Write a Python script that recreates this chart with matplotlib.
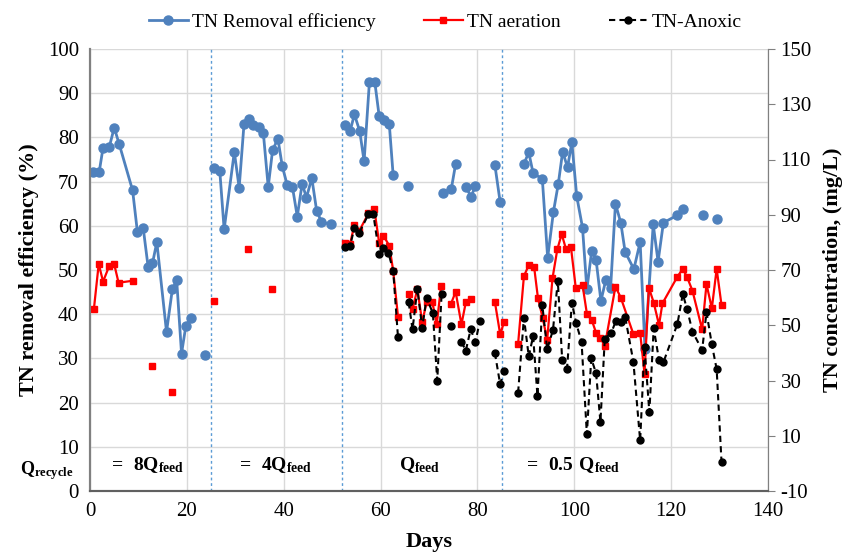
import numpy as np
import matplotlib
matplotlib.use('Agg')
import matplotlib.pyplot as plt
from matplotlib.ticker import MultipleLocator, FixedLocator

plt.rcParams['font.family'] = ['Liberation Serif', 'DejaVu Serif']
plt.rcParams['mathtext.fontset'] = 'custom'
plt.rcParams['mathtext.rm'] = 'Liberation Serif'
plt.rcParams['mathtext.bf'] = 'Liberation Serif:bold'
plt.rcParams['axes.unicode_minus'] = False

# TN removal efficiency (%), None = gap in the line
eff_days = [0.7, 1.9, 2.7, 4.0, 5.0, 6.0, 8.8, 9.8, 11.0, 12.0, 12.9, 13.8, 15.8, 17.0, 17.9, 18.9, 19.8, 20.8, None,
            23.8, None,
            25.7, 26.8, 27.7, 29.8, 30.8, 31.8, 32.8, 33.7, 34.8, 35.8, 36.8, 37.7, 38.8, 39.7, 40.7, 41.8, 42.8,
            43.8, 44.7, 45.8, 46.8, 47.8, 49.7, None,
            52.7, 53.7, 54.6, 55.7, 56.6, 57.7, 58.8, 59.7, 60.8, 61.8, 62.6, None,
            65.7, None,
            72.8, 74.6, 75.5, None,
            77.6, 78.7, 79.6, None,
            83.6, 84.7, None,
            89.6, 90.6, 91.5, 93.4, 94.5, 95.7, 96.7, 97.6, 98.6, 99.5, 100.5, 101.7, 102.6, 103.6, 104.5, 105.5,
            106.5, 107.5, 108.5, 109.6, 110.5, 112.3, 113.6, 114.6, 116.3, 117.3, 118.4, 121.3, 122.4, None,
            126.5, None,
            129.4]
eff_vals = [72.2, 72.2, 77.7, 77.9, 82.2, 78.6, 68.0, 58.5, 59.4, 50.7, 51.5, 56.3, 36.0, 45.6, 47.7, 31.1, 37.4, 39.1, None,
            30.7, None,
            73.1, 72.4, 59.2, 76.7, 68.6, 83.0, 84.1, 82.8, 82.4, 80.9, 68.8, 77.1, 79.7, 73.5, 69.3, 68.8, 62.1,
            69.5, 66.4, 70.8, 63.4, 60.9, 60.3, None,
            82.7, 81.4, 85.2, 81.4, 74.6, 92.6, 92.6, 84.9, 84.0, 83.0, 71.4, None,
            69.1, None,
            67.4, 68.3, 74.0, None,
            68.8, 66.6, 69.1, None,
            73.8, 65.3, None,
            74.0, 76.6, 71.9, 70.6, 52.8, 63.2, 69.5, 76.8, 73.2, 78.9, 66.7, 59.6, 45.6, 54.4, 52.3, 43.0,
            47.7, 45.9, 65.0, 60.7, 54.1, 50.2, 56.3, 32.1, 60.3, 51.9, 60.7, 62.4, 63.8, None,
            62.4, None,
            61.5]

# TN aeration (mg/L)
aer_days = [0.8, 1.8, 2.7, 4.0, 5.0, 5.9, 8.8, None,
            12.7, None, 16.9, None, 25.7, None, 32.6, None, 37.6, None,
            52.7, 53.7, 54.6, 55.6, 57.5, 58.7, 59.7, 60.6, 61.8, 62.6, 63.6, None,
            65.8, 66.6, 67.6, 68.6, 69.5, 70.7, 71.6, 72.5, None,
            74.5, 75.5, 76.7, 77.6, 78.6, None,
            83.6, 84.7, 85.5, None,
            88.4, 89.6, 90.6, 91.7, 92.5, 93.5, 94.4, 95.5, 96.5, 97.4, 98.3, 99.3, 100.3, 101.7, 102.6, 103.6,
            104.5, 105.4, 106.3, 108.5, 109.6, 112.2, 113.6, 114.5, 115.4, 116.4, 117.5, 118.2, 121.3, 122.4,
            123.3, 124.4, 126.4, 127.3, 128.4, 129.4, 130.4]
aer_vals = [55.8, 72.2, 65.8, 71.6, 72.1, 65.4, 66.1, None,
            35.4, None, 25.7, None, 58.9, None, 77.5, None, 63.2, None,
            79.9, 79.4, 86.4, 84.2, 90.5, 92.1, 79.9, 82.4, 78.8, 69.8, 53.1, None,
            61.2, 56.0, 63.0, 51.1, 58.3, 58.3, 50.3, 64.3, None,
            57.6, 62.1, 50.3, 58.3, 59.5, None,
            58.5, 46.7, 51.2, None,
            43.3, 67.8, 71.7, 71.2, 59.8, 52.5, 44.7, 67.0, 77.5, 83.0, 77.5, 78.4, 63.6, 64.6, 54.2, 51.9,
            47.3, 45.5, 42.5, 64.0, 60.0, 46.8, 47.3, 32.5, 63.6, 58.2, 50.1, 57.9, 67.6, 70.4,
            67.4, 62.5, 48.5, 64.9, 56.1, 70.4, 57.3]

# TN anoxic (mg/L)
anox_days = [52.7, 53.7, 54.6, 55.6, 57.5, 58.5, 59.7, 60.6, 61.6, 62.6, 63.6, None,
             65.8, 66.6, 67.6, 68.6, 69.5, 70.8, 71.7, 72.6, None,
             74.5, None,
             76.7, 77.6, 78.6, 79.6, 80.5, None,
             83.6, 84.7, 85.5, None,
             88.4, 89.6, 90.6, 91.5, 92.4, 93.4, 94.4, 95.6, 96.6, 97.5, 98.5, 99.5, 100.4, 101.5, 102.6, 103.5,
             104.5, 105.4, 106.3, 107.6, 108.6, 109.6, 110.5, 112.2, 113.6, 114.5, 115.5, 116.4, 117.5, 118.4,
             121.3, 122.4, 123.3, 124.4, 126.4, 127.3, 128.4, 129.4, 130.4]
anox_vals = [78.2, 78.7, 85.3, 83.5, 90.2, 90.3, 75.9, 77.9, 76.3, 69.8, 45.6, None,
             58.3, 48.5, 63.2, 49.0, 60.0, 54.3, 29.9, 61.3, None,
             49.8, None,
             44.0, 40.8, 48.5, 44.0, 51.6, None,
             40.0, 28.6, 33.4, None,
             25.6, 52.8, 38.7, 46.1, 24.3, 57.3, 41.3, 48.3, 66.1, 37.5, 34.2, 58.1, 50.7, 44.0, 10.5, 38.0,
             32.6, 15.0, 45.2, 47.1, 51.6, 51.3, 53.1, 36.8, 8.3, 42.2, 18.5, 48.9, 37.4, 36.6,
             50.5, 61.3, 55.8, 47.7, 41.0, 54.7, 43.1, 34.1, 0.6]

phase_bounds = [25, 52, 85]
phase_labels = [r'$\mathbf{=\ 8Q_{feed}}$', r'$\mathbf{=\ 4Q_{feed}}$', r'$\mathbf{Q_{feed}}$', r'$\mathbf{=\ 0.5\ Q_{feed}}$']
phase_label_x = [11.6, 38, 68, 99.5]
right_ticks = [-10, 10, 30, 50, 70, 90, 110, 130, 150]

eff_days = np.array(eff_days, dtype=float)
eff_vals = np.array(eff_vals, dtype=float)
aer_days = np.array(aer_days, dtype=float)
aer_vals = np.array(aer_vals, dtype=float)
anox_days = np.array(anox_days, dtype=float)
anox_vals = np.array(anox_vals, dtype=float)

fig = plt.figure(figsize=(8.45, 5.54), dpi=100)
ax = fig.add_axes([90 / 845, 1 - 491 / 554, 678 / 845, 442 / 554])
ax2 = ax.twinx()

l1, = ax.plot(eff_days, eff_vals, color='#4F81BD', lw=2, marker='o', ms=6.5, label='TN Removal efficiency')
l2, = ax2.plot(aer_days, aer_vals, color='#FF0000', lw=1.6, marker='s', ms=5, label='TN aeration')
l3, = ax2.plot(anox_days, anox_vals, color='black', lw=1.5, ls=(0, (3, 2)), marker='o', ms=5,
               label='TN-Anoxic')

for b in phase_bounds:
    ax.axvline(b, color='#5B9BD5', lw=1, ls=(0, (2, 2)), zorder=1)

ax.set_xlim(0, 140)
ax.set_ylim(0, 100)
ax2.set_ylim(-10, 150)
ax.xaxis.set_major_locator(MultipleLocator(20))
ax.yaxis.set_major_locator(MultipleLocator(10))
ax2.yaxis.set_major_locator(FixedLocator(right_ticks))
ax.grid(True, color='#D9D9D9', lw=1)
ax.set_axisbelow(True)

for a in (ax, ax2):
    a.spines['top'].set_visible(False)
    a.spines['left'].set_color('#808080')
    a.spines['right'].set_color('#808080')
    a.spines['bottom'].set_color('#606060')
    a.spines['left'].set_linewidth(1.5)
    a.spines['bottom'].set_linewidth(1.5)
ax.tick_params(axis='both', labelsize=15, length=0, pad=8)
ax2.tick_params(axis='y', labelsize=15, length=5, color='#808080', pad=4)

ax.set_xlabel('Days', fontsize=16, fontweight='bold', labelpad=8)
ax.set_ylabel('TN removal efficiency (%)', fontsize=16, fontweight='bold', labelpad=6)
ax2.set_ylabel('TN concentration, (mg/L)', fontsize=16, fontweight='bold', labelpad=8)

ax.text(-14.5, 4.6, r'$\mathbf{Q_{recycle}}$', fontsize=13, va='center', ha='left', clip_on=False)
for x, t in zip(phase_label_x, phase_labels):
    ax.text(x, 5.8, t, fontsize=14, va='center', ha='center')

fig.legend(handles=[l1, l2, l3], loc='center', bbox_to_anchor=(0.527, 0.96), ncol=3, frameon=False,
           fontsize=14, handlelength=2, columnspacing=2.5, handletextpad=0.2)

fig.savefig('out.png', dpi=100)
